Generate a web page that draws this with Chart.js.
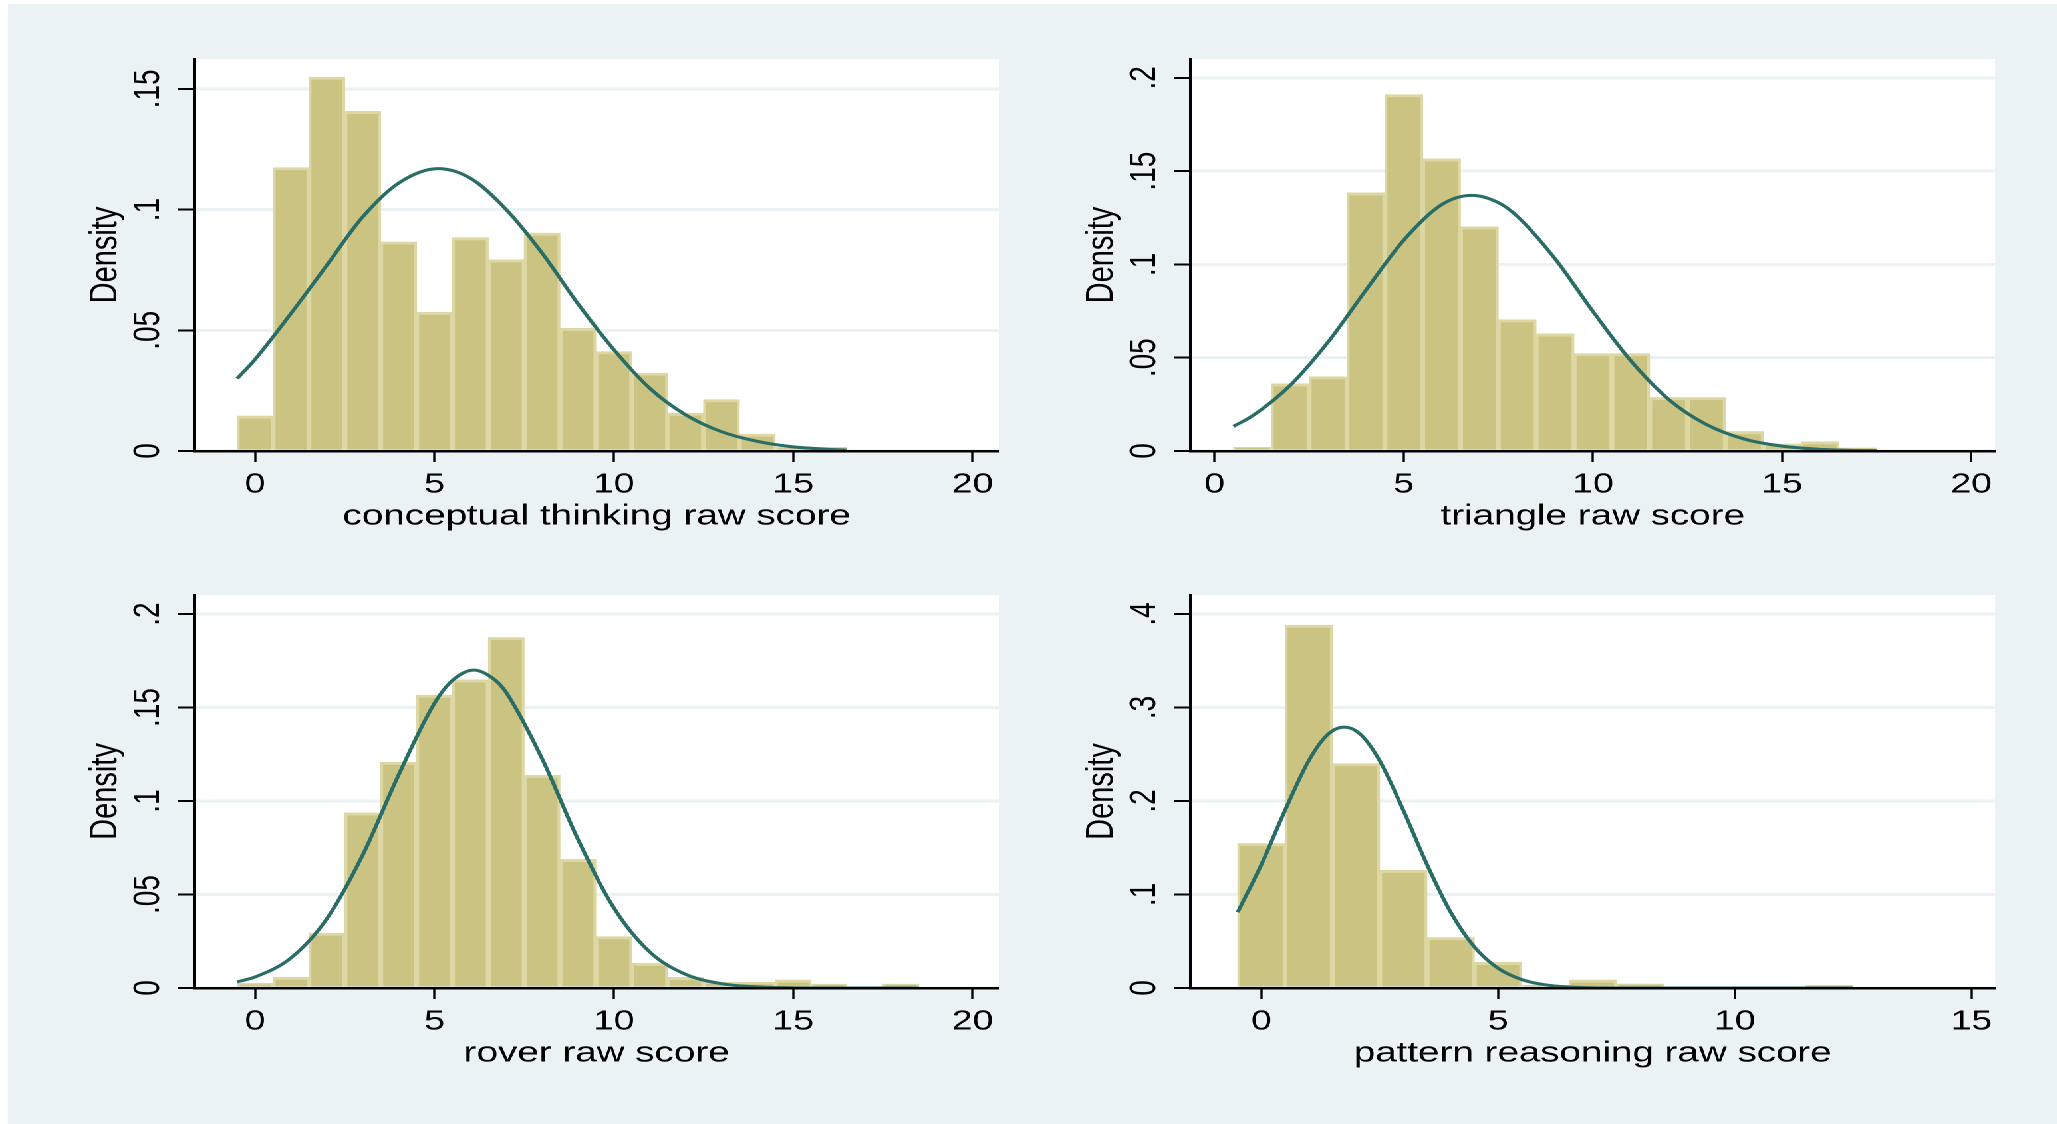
<!DOCTYPE html>
<html>
<head>
<meta charset="utf-8">
<script src="https://cdn.jsdelivr.net/npm/chart.js@4.4.0/dist/chart.umd.min.js"></script>
<style>
html, body { margin:0; padding:0; background:#fff; overflow:hidden; }
#bg { position:absolute; left:8px; top:4px; right:0; bottom:0; background:#eaf2f3; }
#stage { position:absolute; left:0; top:0; height:1124px; transform-origin:0 0; }
.panel { position:absolute; }
</style>
</head>
<body>
<div id="bg"></div>
<div id="stage"></div>
<script>
// histogram bins (bin centres, width 1) and densities
var conceptBins = [0,1,2,3,4,5,6,7,8,9,10,11,12,13,14,15,16];
var conceptDensity = [0.0145,0.1174,0.1549,0.1407,0.0866,0.0575,0.0884,0.0792,0.0903,0.0508,0.0412,0.0323,0.0157,0.0213,0.0070,0.0015,0.0015];
var conceptCurveX = [-0.5,0,1,2,3,4,5.1,6,7,8,9,10,11,12,13,14,15,16,16.5];
var conceptCurveY = [0.030,0.038,0.057,0.077,0.097,0.111,0.117,0.113,0.100,0.082,0.061,0.042,0.026,0.015,0.008,0.004,0.0017,0.0007,0.0004];

var triangleBins = [1,2,3,4,5,6,7,8,9,10,11,12,13,14,15,16,17];
var triangleDensity = [0.0020,0.0360,0.0398,0.1384,0.1910,0.1566,0.1202,0.0704,0.0628,0.0522,0.0522,0.0287,0.0287,0.0105,0.0038,0.0050,0.0016];
var triangleCurveX = [0.5,1,2,3,4,5,6,6.8,7.5,8,9,10,11,12,13,14,15,16,17,17.5];
var triangleCurveY = [0.0132,0.0188,0.0352,0.0584,0.0862,0.113,0.132,0.137,0.1331,0.1258,0.103,0.0748,0.0484,0.0277,0.0142,0.0064,0.0026,0.0009,0.0003,0.0002];

var roverBins = [0,1,2,3,4,5,6,7,8,9,10,11,12,13,14,15,16,17,18];
var roverDensity = [0.0025,0.0058,0.0294,0.0937,0.1208,0.1567,0.1648,0.1875,0.1138,0.0688,0.0275,0.0132,0.0057,0.0030,0.0030,0.0043,0.0021,null,0.0021];
var roverCurveX = [-0.5,0,1,2,3,4,5,5.5,6.1,6.7,7,8,9,10,11,12,13,14,15,16,18.5];
var roverCurveY = [0.0033,0.0059,0.0161,0.0371,0.0712,0.114,0.1523,0.1645,0.170,0.1645,0.158,0.1226,0.0795,0.0429,0.0193,0.0073,0.0023,0.0006,0.0001,0,0];

var patternBins = [0,1,2,3,4,5,6,7,8,9,10,11,12];
var patternDensity = [0.1546,0.388,0.240,0.126,0.054,0.0274,0.003,0.0086,0.0043,null,null,null,0.0027];
var patternCurveX = [-0.5,0,0.5,1,1.4,1.75,2.1,2.5,3,3.5,4,4.5,5,5.5,6,6.5,7,8,12.5];
var patternCurveY = [0.081,0.132,0.190,0.243,0.271,0.279,0.271,0.243,0.190,0.132,0.081,0.0439,0.0211,0.0090,0.0034,0.0011,0.0003,0,0];

var xTicks20 = [0,5,10,15,20];
var xTicks15 = [0,5,10,15];
var yTicks15 = [0,0.05,0.1,0.15];
var yLabels15 = ['0','.05','.1','.15'];
var yTicks20 = [0,0.05,0.1,0.15,0.2];
var yLabels20 = ['0','.05','.1','.15','.2'];
var yTicks40 = [0,0.1,0.2,0.3,0.4];
var yLabels40 = ['0','.1','.2','.3','.4'];

var STRETCH = 1.33; // the original graph is stretched sideways
var FONT = "'Liberation Sans', Arial, Helvetica, sans-serif";
var stage = document.getElementById('stage');
stage.style.width = (2057 / STRETCH) + 'px';
stage.style.transform = 'scaleX(' + STRETCH + ')';

var plotBg = {
  id: 'plotBg',
  beforeDraw: function (chart) {
    var a = chart.chartArea, ctx = chart.ctx;
    ctx.save();
    ctx.fillStyle = '#ffffff';
    ctx.fillRect(a.left, a.top, a.right - a.left, a.bottom - a.top);
    ctx.restore();
  }
};

// stata style vertical tick labels on the y axis
var yTickText = {
  id: 'yTickText',
  afterDraw: function (chart, args, opts) {
    var ctx = chart.ctx, sc = chart.scales.y;
    ctx.save();
    ctx.font = '28px ' + FONT;
    ctx.fillStyle = '#000';
    ctx.textAlign = 'center';
    ctx.textBaseline = 'middle';
    for (var i = 0; i < opts.values.length; i++) {
      var y = sc.getPixelForValue(opts.values[i]);
      ctx.save();
      ctx.translate(chart.chartArea.left - 34.4, y);
      ctx.rotate(-Math.PI / 2);
      ctx.fillText(opts.labels[i], 0, 0);
      ctx.restore();
    }
    ctx.restore();
  }
};

function makePanel(p) {
  var s = STRETCH;
  var Lu = p.box[0] / s, Ru = p.box[1] / s, T = p.box[2], B = p.box[3];
  var yw = 140, pr = 15, pt = 40, xh = 83;
  var div = document.createElement('div');
  div.className = 'panel';
  div.style.left = (Lu - yw) + 'px';
  div.style.top = (T - pt) + 'px';
  div.style.width = (Ru - Lu + yw + pr) + 'px';
  div.style.height = (B - T + pt + xh) + 'px';
  var cv = document.createElement('canvas');
  div.appendChild(cv);
  stage.appendChild(div);

  new Chart(cv, {
    type: 'bar',
    data: {
      datasets: [{
        type: 'line',
        data: p.curveX.map(function (x, i) { return {x: x, y: p.curveY[i]}; }),
        borderColor: '#2a6d66',
        borderWidth: 3,
        pointRadius: 0,
        fill: false,
        cubicInterpolationMode: 'monotone',
        order: 0
      }, {
        type: 'bar',
        data: p.bins.map(function (x, i) { return {x: x, y: p.density[i]}; }),
        backgroundColor: '#cbc381',
        borderColor: '#ddd7a3',
        borderWidth: {left: 2.2, right: 2.2, top: 3, bottom: 0},
        barPercentage: 1,
        categoryPercentage: 1,
        order: 1
      }]
    },
    options: {
      responsive: true,
      maintainAspectRatio: false,
      animation: false,
      devicePixelRatio: 2,
      layout: {padding: {left: 0, right: pr, top: pt, bottom: 0}},
      plugins: {
        legend: {display: false},
        tooltip: {enabled: false},
        yTickText: {values: p.yTicks, labels: p.yLabels}
      },
      scales: {
        x: {
          type: 'linear',
          min: p.xMin, max: p.xMax,
          offset: false,
          afterBuildTicks: function (sc) { sc.ticks = p.xTicks.map(function (v) { return {value: v}; }); },
          afterFit: function (sc) { sc.height = xh; },
          grid: {drawOnChartArea: false, drawTicks: true, tickLength: 11, tickColor: '#000', tickWidth: 1.7, offset: false},
          border: {display: true, color: '#000', width: 2.5, z: 1},
          ticks: {color: '#000', font: {family: FONT, size: 28}, padding: 6, maxRotation: 0, autoSkip: false},
          title: {display: true, text: p.title, color: '#000', font: {family: FONT, size: 29}, padding: {top: 0, bottom: 0}}
        },
        y: {
          min: 0, max: p.yMax,
          afterBuildTicks: function (sc) { sc.ticks = p.yTicks.map(function (v) { return {value: v}; }); },
          afterFit: function (sc) { sc.width = yw; },
          grid: {color: '#eaf2f3', lineWidth: 3, tickLength: 12, tickColor: '#000', tickWidth: 2},
          border: {display: true, color: '#000', width: 2.2, z: 1},
          ticks: {display: false},
          title: {display: true, text: 'Density', color: '#000', font: {family: FONT, size: 29}, padding: {top: yw - 66.4 - 17.4, bottom: 0}}
        }
      }
    },
    plugins: [plotBg, yTickText]
  });
}

makePanel({bins: conceptBins, density: conceptDensity, curveX: conceptCurveX, curveY: conceptCurveY,
  xMin: -1.70, xMax: 20.74, xTicks: xTicks20, yMax: 0.1624, yTicks: yTicks15, yLabels: yLabels15,
  title: 'conceptual thinking raw score', box: [193.8, 998.7, 59, 451]});
makePanel({bins: triangleBins, density: triangleDensity, curveX: triangleCurveX, curveY: triangleCurveY,
  xMin: -0.64, xMax: 20.63, xTicks: xTicks20, yMax: 0.2101, yTicks: yTicks20, yLabels: yLabels20,
  title: 'triangle raw score', box: [1189.7, 1994.5, 59, 451]});
makePanel({bins: roverBins, density: roverDensity, curveX: roverCurveX, curveY: roverCurveY,
  xMin: -1.70, xMax: 20.74, xTicks: xTicks20, yMax: 0.2102, yTicks: yTicks20, yLabels: yLabels20,
  title: 'rover raw score', box: [193.8, 998.7, 595, 988]});
makePanel({bins: patternBins, density: patternDensity, curveX: patternCurveX, curveY: patternCurveY,
  xMin: -1.50, xMax: 15.50, xTicks: xTicks15, yMax: 0.4203, yTicks: yTicks40, yLabels: yLabels40,
  title: 'pattern reasoning raw score', box: [1189.7, 1994.5, 595, 988]});
</script>
</body>
</html>
